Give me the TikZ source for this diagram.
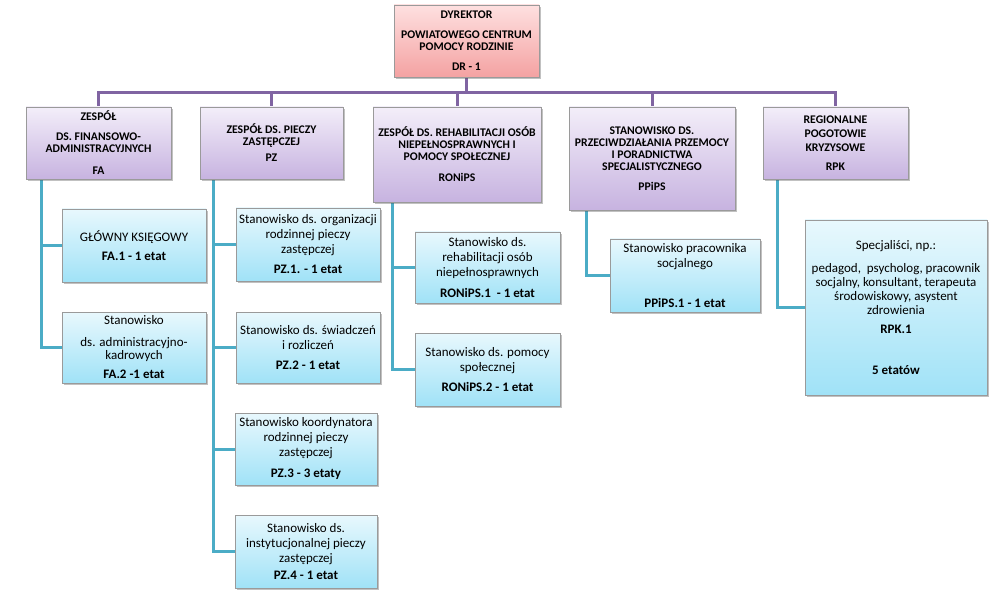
\documentclass[tikz,border=0pt]{standalone}
\usepackage{fontspec}
\setmainfont{Carlito}
\usetikzlibrary{shadows,backgrounds}
\definecolor{purpline}{HTML}{8064A2}
\definecolor{tealline}{HTML}{4BACC6}
\definecolor{boxborder}{HTML}{9A9A9A}
\definecolor{dirtop}{HTML}{FEE0E0}
\definecolor{dirbot}{HTML}{F4A2A2}
\definecolor{depttop}{HTML}{F3EEF9}
\definecolor{deptbot}{HTML}{C7B3E0}
\definecolor{subtop}{HTML}{E8F8FD}
\definecolor{subbot}{HTML}{A0E2F7}
\tikzset{
  box/.style={draw=boxborder, line width=0.6pt, align=center, inner sep=1pt,
    drop shadow={shadow xshift=1.5pt, shadow yshift=-2pt, opacity=0.35, fill=black!70}},
  dirbox/.style={box, top color=dirtop, bottom color=dirbot, font=\bfseries\fontsize{11.7}{12}\selectfont},
  deptbox/.style={box, top color=depttop, bottom color=deptbot, font=\bfseries\fontsize{11.7}{12}\selectfont},
  subbox/.style={box, top color=subtop, bottom color=subbot, font=\fontsize{13}{15}\selectfont},
  purp/.style={draw=purpline, line width=3pt},
  tealc/.style={draw=tealline, line width=3pt},
}
\begin{document}
\begin{tikzpicture}[x=1pt,y=-1pt]
\useasboundingbox (0,0) rectangle (1005,599);
% director
\node[dirbox, minimum width=145pt, minimum height=72pt] (dir) at (466.5,41)
  {DYREKTOR\\[8pt]POWIATOWEGO CENTRUM\\POMOCY RODZINIE\\[8pt]DR - 1};
% departments
\node[deptbox, minimum width=145pt, minimum height=72pt] (fa) at (98.5,143)
  {ZESPÓŁ\\[8pt]DS. FINANSOWO-\\ADMINISTRACYJNYCH\\[10pt]FA};
\node[deptbox, minimum width=143pt, minimum height=72pt] (pz) at (271.5,143)
  {ZESPÓŁ DS. PIECZY\\ZASTĘPCZEJ\\[4pt]PZ};
\node[deptbox, minimum width=168pt, minimum height=95pt] (ron) at (457,154.5)
  {ZESPÓŁ DS. REHABILITACJI OSÓB\\NIEPEŁNOSPRAWNYCH I\\POMOCY SPOŁECZNEJ\\[9pt]RONiPS};
\node[deptbox, minimum width=166pt, minimum height=103pt] (pp) at (652,158.5)
  {STANOWISKO DS.\\PRZECIWDZIAŁANIA PRZEMOCY\\I PORADNICTWA\\SPECJALISTYCZNEGO\\[8pt]PPiPS};
\node[deptbox, minimum width=145pt, minimum height=72pt] (rpk) at (835.5,143)
  {REGIONALNE\\[2pt]POGOTOWIE\\[2pt]KRYZYSOWE\\[7pt]RPK};
% sub positions
\node[subbox, minimum width=144pt, minimum height=73pt] (fa1) at (134,245.5)
  {GŁÓWNY KSIĘGOWY\\[4pt]\textbf{FA.1 - 1 etat}};
\node[subbox, minimum width=144pt, minimum height=71pt] (fa2) at (134,347.5)
  {Stanowisko\\[7pt]ds. administracyjno-\\[-2pt]kadrowych\\[4pt]\textbf{FA.2 -1 etat}};
\node[subbox, minimum width=144pt, minimum height=73pt] (pz1) at (308,244.5)
  {Stanowisko ds. organizacji\\rodzinnej pieczy\\zastępczej\\[5pt]\textbf{PZ.1. - 1 etat}};
\node[subbox, minimum width=144pt, minimum height=71pt] (pz2) at (308,347.5)
  {Stanowisko ds. świadczeń\\i rozliczeń\\[5pt]\textbf{PZ.2 - 1 etat}};
\node[subbox, minimum width=142pt, minimum height=72pt] (pz3) at (306,449)
  {Stanowisko koordynatora\\rodzinnej pieczy\\zastępczej\\[6pt]\textbf{PZ.3 - 3 etaty}};
\node[subbox, minimum width=142pt, minimum height=73pt] (pz4) at (306,551.5)
  {Stanowisko ds.\\instytucjonalnej pieczy\\zastępczej\\[2pt]\textbf{PZ.4 - 1 etat}};
\node[subbox, minimum width=145pt, minimum height=71pt] (ron1) at (487.5,267.5)
  {Stanowisko ds.\\rehabilitacji osób\\niepełnosprawnych\\[6pt]\textbf{RONiPS.1 \ - 1 etat}};
\node[subbox, minimum width=145pt, minimum height=73pt] (ron2) at (487.5,369.5)
  {Stanowisko ds. pomocy\\społecznej\\[5pt]\textbf{RONiPS.2 - 1 etat}};
\node[subbox, minimum width=150pt, minimum height=73pt] (pp1) at (685,275.5)
  {Stanowisko pracownika\\socjalnego\\[25pt]\textbf{PPiPS.1 - 1 etat}};
\node[subbox, minimum width=182pt, minimum height=175pt] (rpk1) at (896,307.5)
  {Specjaliści, np.:\\[8pt]pedagod, \ psycholog, pracownik\\[-1pt]socjalny, konsultant, terapeuta\\[-1pt]środowiskowy, asystent\\[-1pt]zdrowienia\\[4pt]\textbf{RPK.1}\\[26pt]\textbf{5 etatów}};
% connectors
\begin{scope}[on background layer]
\coordinate (bus) at (466.5,93);
\draw[purp] (dir.south) -- (bus);
\draw[purp] (fa.north) |- (bus) -| (rpk.north);
\draw[purp] (pz.north) -- (pz.north |- bus);
\draw[purp] (ron.north) -- (ron.north |- bus);
\draw[purp] (pp.north) -- (pp.north |- bus);
\draw[tealc] ([xshift=16pt]fa.south west) |- (fa1.west);
\draw[tealc] ([xshift=16pt]fa.south west) |- (fa2.west);
\draw[tealc] ([xshift=14pt]pz.south west) |- (pz1.west);
\draw[tealc] ([xshift=14pt]pz.south west) |- (pz2.west);
\draw[tealc] ([xshift=14pt]pz.south west) |- (pz3.west);
\draw[tealc] ([xshift=14pt]pz.south west) |- (pz4.west);
\draw[tealc] ([xshift=20pt]ron.south west) |- (ron1.west);
\draw[tealc] ([xshift=20pt]ron.south west) |- (ron2.west);
\draw[tealc] ([xshift=18pt]pp.south west) |- (pp1.west);
\draw[tealc] ([xshift=15pt]rpk.south west) |- (rpk1.west);
\end{scope}
\end{tikzpicture}
\end{document}
